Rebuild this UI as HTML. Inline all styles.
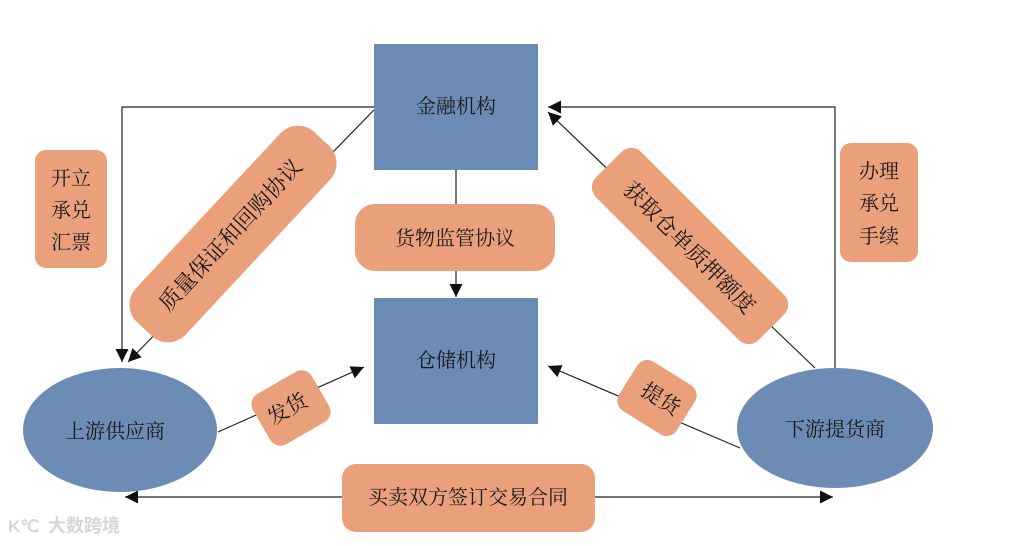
<!DOCTYPE html>
<html><head><meta charset="utf-8"><style>
html,body{margin:0;padding:0;background:#fff;}
svg{display:block;}
text{font-family:"Liberation Serif","Noto Serif CJK SC",serif;fill:#1a1a1a;}
</style></head><body>
<svg width="1026" height="546" viewBox="0 0 1026 546" xmlns="http://www.w3.org/2000/svg">
<defs>
<marker id="a" viewBox="0 0 10 10" refX="10" refY="5" markerWidth="15" markerHeight="13" markerUnits="userSpaceOnUse" orient="auto-start-reverse">
<path d="M0,0 L10,5 L0,10 z" fill="#111"/></marker>
</defs>
<g stroke="#222" stroke-width="1.2" fill="none">
<polyline points="374,107 122,107 122,362" marker-end="url(#a)"/>
<line x1="374" y1="110" x2="128" y2="362" marker-end="url(#a)"/>
<line x1="456" y1="170" x2="456" y2="297" marker-end="url(#a)"/>
<polyline points="835,368 835,107 548,107" marker-end="url(#a)"/>
<line x1="815" y1="368" x2="548" y2="112" marker-end="url(#a)"/>
<line x1="218" y1="432" x2="364" y2="367" marker-end="url(#a)"/>
<line x1="740" y1="448" x2="548" y2="366" marker-end="url(#a)"/>
<line x1="125" y1="497" x2="833" y2="497" marker-start="url(#a)" marker-end="url(#a)"/>
</g>
<rect x="374" y="44" width="164" height="126" fill="#6c8cb6"/>
<text x="456" y="113" font-size="20" text-anchor="middle">金融机构</text>
<rect x="374" y="298" width="164" height="126" fill="#6c8cb6"/>
<text x="456" y="367" font-size="20" text-anchor="middle">仓储机构</text>
<ellipse cx="120" cy="430" rx="97" ry="62" fill="#6c8cb6"/>
<text x="115" y="438" font-size="20" text-anchor="middle">上游供应商</text>
<ellipse cx="835" cy="428" rx="98" ry="60" fill="#6c8cb6"/>
<text x="835" y="436" font-size="20" text-anchor="middle">下游提货商</text>
<g fill="#eba07c">
<rect x="35" y="150" width="72" height="118" rx="11"/>
<rect x="840" y="143" width="78" height="119" rx="11"/>
<rect x="355" y="204" width="200" height="67" rx="20"/>
<rect x="342" y="464" width="253" height="68" rx="14"/>
<rect x="-130" y="-34" width="260" height="68" rx="24" transform="translate(233,234) rotate(-47)"/>
<rect x="-115" y="-32" width="230" height="64" rx="14" transform="translate(690,246) rotate(45)"/>
<rect x="-34" y="-29" width="68" height="58" rx="12" transform="translate(291,408) rotate(-30)"/>
<rect x="-34" y="-29" width="68" height="58" rx="12" transform="translate(657,398) rotate(32)"/>
</g>
<g font-size="20" text-anchor="middle">
<text x="71" y="185">开立</text><text x="71" y="217">承兑</text><text x="71" y="249">汇票</text>
<text x="879" y="178">办理</text><text x="879" y="210">承兑</text><text x="879" y="243">手续</text>
<text x="455" y="245">货物监管协议</text>
<text x="468" y="504">买卖双方签订交易合同</text>
<text font-size="22" transform="translate(236,240) rotate(-47)">质量保证和回购协议</text>
<text font-size="22" transform="translate(684,253) rotate(45)">获取仓单质押额度</text>
<text font-size="21" transform="translate(291,415) rotate(-30)">发货</text>
<text font-size="21" transform="translate(657,405) rotate(32)">提货</text>
</g>
<text x="48" y="532" font-size="18" style="fill:#d6d6d6;font-family:'Noto Sans CJK SC',sans-serif;font-weight:bold">大数跨境</text>
<text x="8" y="532" font-size="17" style="fill:#d6d6d6;font-family:'Liberation Sans',sans-serif;font-weight:bold">K℃</text>
</svg>
</body></html>
